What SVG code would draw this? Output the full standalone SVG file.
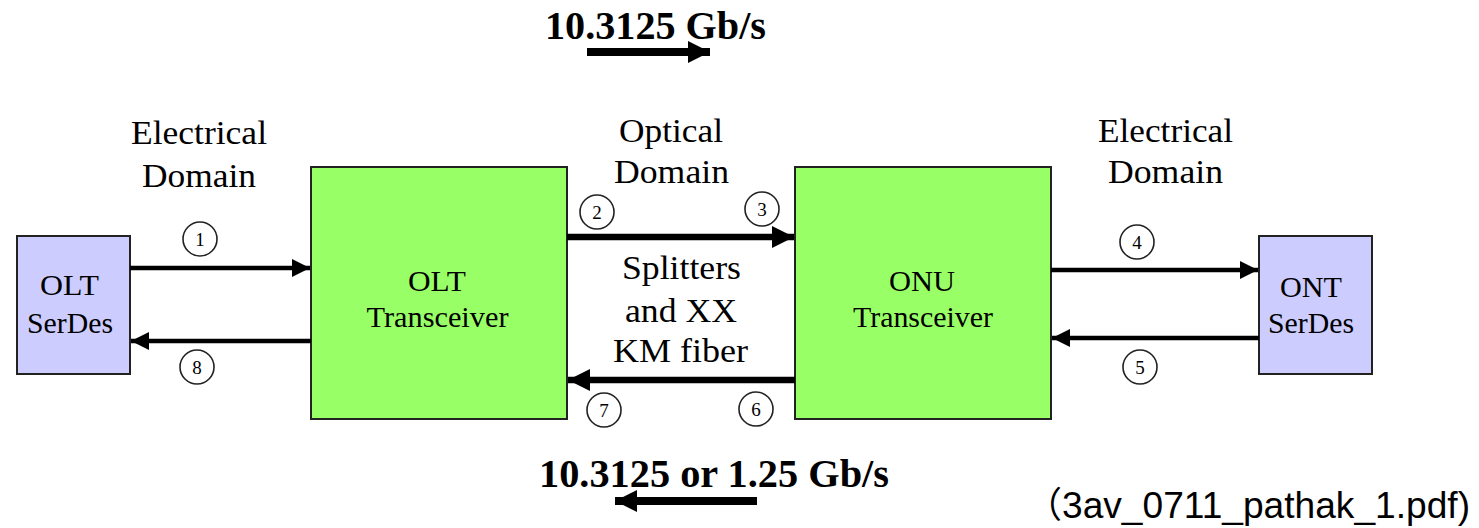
<svg xmlns="http://www.w3.org/2000/svg" width="1479" height="528" viewBox="0 0 1479 528">
<style>
.serif{font-family:"Liberation Serif","Times New Roman",serif;fill:#000}
.lbl{font-size:34px;text-anchor:middle}
.box{font-size:30px;text-anchor:middle}
.rate{font-size:39px;font-weight:bold}
.num{font-size:19px;text-anchor:middle}
.green{fill:#99FF66;stroke:#222;stroke-width:2}
.lav{fill:#CCCCFF;stroke:#222;stroke-width:2}
.circ{fill:#fff;stroke:#222;stroke-width:1.6}
.el{stroke:#000;stroke-width:4.5;fill:none}
.op{stroke:#000;stroke-width:6.5;fill:none}
.big{stroke:#000;stroke-width:8;fill:none}
</style>
<defs>
<marker id="hs" markerUnits="userSpaceOnUse" markerWidth="18" markerHeight="18" refX="18" refY="9" orient="auto"><path d="M0,0 L18,9 L0,18 Z" fill="#000"/></marker>
<marker id="hm" markerUnits="userSpaceOnUse" markerWidth="22" markerHeight="22" refX="22" refY="11" orient="auto"><path d="M0,0 L22,11 L0,22 Z" fill="#000"/></marker>
</defs>
<rect width="1479" height="528" fill="#fff"/>

<g id="olt-serdes"><rect class="lav" x="17" y="236" width="113" height="138"/>
<text class="serif box" x="69.5" y="295" textLength="59" lengthAdjust="spacingAndGlyphs">OLT</text><text class="serif box" x="70" y="333" textLength="86" lengthAdjust="spacingAndGlyphs">SerDes</text></g>
<g id="olt-transceiver"><rect class="green" x="311" y="167" width="256" height="252"/>
<text class="serif box" x="437" y="291" textLength="58" lengthAdjust="spacingAndGlyphs">OLT</text><text class="serif box" x="437.5" y="327" textLength="142" lengthAdjust="spacingAndGlyphs">Transceiver</text></g>
<g id="onu-transceiver"><rect class="green" x="795" y="167" width="256" height="252"/>
<text class="serif box" x="922" y="291" textLength="66" lengthAdjust="spacingAndGlyphs">ONU</text><text class="serif box" x="923" y="327" textLength="140" lengthAdjust="spacingAndGlyphs">Transceiver</text></g>
<g id="ont-serdes"><rect class="lav" x="1259" y="236" width="113" height="138"/>
<text class="serif box" x="1311" y="297" textLength="62" lengthAdjust="spacingAndGlyphs">ONT</text><text class="serif box" x="1311" y="333" textLength="86" lengthAdjust="spacingAndGlyphs">SerDes</text></g>

<g id="connectors">
<line class="el" x1="130" y1="268" x2="310" y2="268" marker-end="url(#hs)"/>
<line class="el" x1="311" y1="341" x2="131" y2="341" marker-end="url(#hs)"/>
<line class="op" x1="567" y1="237" x2="794" y2="237" marker-end="url(#hm)"/>
<line class="op" x1="795" y1="380" x2="568" y2="380" marker-end="url(#hm)"/>
<line class="el" x1="1051" y1="270" x2="1258" y2="270" marker-end="url(#hs)"/>
<line class="el" x1="1259" y1="338" x2="1052" y2="338" marker-end="url(#hs)"/>
<line class="big" x1="587" y1="52" x2="710" y2="52" marker-end="url(#hm)"/>
<line class="big" x1="757" y1="501" x2="615" y2="501" marker-end="url(#hm)"/>
</g>

<g id="markers">
<circle class="circ" cx="200" cy="239" r="17"/><text class="serif num" x="200" y="246">1</text>
<circle class="circ" cx="597" cy="212" r="17"/><text class="serif num" x="597" y="219">2</text>
<circle class="circ" cx="762" cy="209" r="17"/><text class="serif num" x="762" y="216">3</text>
<circle class="circ" cx="1137" cy="242" r="17"/><text class="serif num" x="1137" y="249">4</text>
<circle class="circ" cx="1140" cy="367" r="17"/><text class="serif num" x="1140" y="374">5</text>
<circle class="circ" cx="756" cy="409" r="17"/><text class="serif num" x="756" y="416">6</text>
<circle class="circ" cx="604" cy="410" r="17"/><text class="serif num" x="604" y="417">7</text>
<circle class="circ" cx="197" cy="367" r="17"/><text class="serif num" x="197" y="374">8</text>
</g>

<g id="labels">
<text class="serif lbl" x="199" y="144" textLength="136" lengthAdjust="spacingAndGlyphs">Electrical</text><text class="serif lbl" x="199" y="187" textLength="114" lengthAdjust="spacingAndGlyphs">Domain</text>
<text class="serif lbl" x="671" y="142" textLength="104" lengthAdjust="spacingAndGlyphs">Optical</text><text class="serif lbl" x="671.5" y="183" textLength="115" lengthAdjust="spacingAndGlyphs">Domain</text>
<text class="serif lbl" x="1165.5" y="142" textLength="135" lengthAdjust="spacingAndGlyphs">Electrical</text><text class="serif lbl" x="1165.5" y="183" textLength="115" lengthAdjust="spacingAndGlyphs">Domain</text>
<text class="serif lbl" x="681.5" y="279" textLength="119" lengthAdjust="spacingAndGlyphs">Splitters</text><text class="serif lbl" x="681" y="322" textLength="112" lengthAdjust="spacingAndGlyphs">and XX</text><text class="serif lbl" x="680.5" y="362" textLength="135" lengthAdjust="spacingAndGlyphs">KM fiber</text>
<text class="serif rate" x="545" y="39" textLength="221" lengthAdjust="spacingAndGlyphs">10.3125 Gb/s</text>
<text class="serif rate" x="539" y="487" textLength="350" lengthAdjust="spacingAndGlyphs">10.3125 or 1.25 Gb/s</text>
<text y="518" font-family="'Liberation Sans','Noto Sans CJK JP',sans-serif" font-size="36" fill="#000"><tspan x="1026">（</tspan><tspan x="1062" textLength="408" lengthAdjust="spacingAndGlyphs">3av_0711_pathak_1.pdf)</tspan></text>
</g>
</svg>
